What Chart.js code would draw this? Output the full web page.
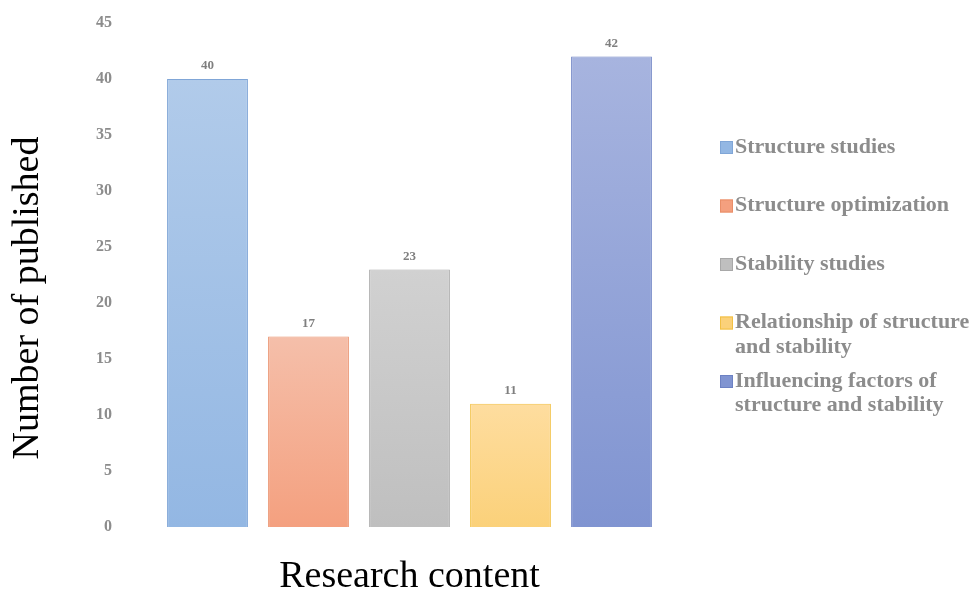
<!DOCTYPE html>
<html>
<head>
<meta charset="utf-8">
<script src="https://cdn.jsdelivr.net/npm/chart.js@4/dist/chart.umd.min.js"></script>
<style>
  html, body { margin: 0; padding: 0; background: #fff; }
  #wrap { width: 974px; height: 590px; }
</style>
</head>
<body>
<div id="wrap"><canvas id="myChart" width="974" height="590"></canvas></div>
<script>
'use strict';

// chart data
let categories = ['Structure studies', 'Structure optimization', 'Stability studies', 'Relationship of structure and stability', 'Influencing factors of structure and stability'];
let published = [40, 17, 23, 11, 42];
let yTicks = [0, 5, 10, 15, 20, 25, 30, 35, 40, 45];
let yTitle = 'Number of published';
let xTitle = 'Research content';

// bar colours, top of bar -> bottom of bar, plus edge
let topColors = ['#b1cbea', '#f5bfaa', '#d1d1d1', '#fedd9f', '#a7b4df'];
let bottomColors = ['#93b7e3', '#f4a07f', '#bfbfbf', '#fbd17a', '#8094d1'];
let edgeColors = ['#80a6d7', '#e98e69', '#a8a8a8', '#f2c043', '#6c81c3'];

let serif = '"Liberation Serif", "Times New Roman", serif';
let grey = '#8c8c8c';

// gradient per bar, from its top down to the zero line
function barGradient(context) {
  let chart = context.chart;
  if (!chart.chartArea) return bottomColors[context.dataIndex];
  let yScale = chart.scales.y;
  let i = context.dataIndex;
  let top = yScale.getPixelForValue(published[i]);
  let base = yScale.getPixelForValue(0);
  let g = chart.ctx.createLinearGradient(0, top, 0, base);
  g.addColorStop(0, topColors[i]);
  g.addColorStop(1, bottomColors[i]);
  return g;
}

// numbers above the bars
let valueLabels = {
  id: 'valueLabels',
  afterDatasetsDraw(chart) {
    let ctx = chart.ctx;
    let meta = chart.getDatasetMeta(0);
    ctx.save();
    ctx.font = 'bold 13px ' + serif;
    ctx.fillStyle = '#7f7f7f';
    ctx.textAlign = 'center';
    ctx.textBaseline = 'middle';
    meta.data.forEach(function (bar, i) {
      ctx.fillText(published[i], bar.x, bar.y - 13);
    });
    ctx.restore();
  }
};

// y title sits a bit lower than the axis middle, so draw it here
let sideTitle = {
  id: 'sideTitle',
  afterDraw(chart) {
    let ctx = chart.ctx;
    ctx.save();
    ctx.translate(28, 298);
    ctx.rotate(-Math.PI / 2);
    ctx.font = '38px ' + serif;
    ctx.fillStyle = '#000';
    ctx.textAlign = 'center';
    ctx.textBaseline = 'middle';
    ctx.fillText(yTitle, 0, 0);
    ctx.restore();
  }
};

// wrap a label to a max width
function wrapText(ctx, text, maxWidth) {
  let words = text.split(' ');
  let lines = [];
  let line = '';
  words.forEach(function (w) {
    let test = line ? line + ' ' + w : w;
    if (ctx.measureText(test).width > maxWidth && line) {
      lines.push(line);
      line = w;
    } else {
      line = test;
    }
  });
  lines.push(line);
  return lines;
}

// legend on the right, drawn by hand so long labels can wrap
let sideLegend = {
  id: 'sideLegend',
  afterDraw(chart) {
    let ctx = chart.ctx;
    let boxX = 720;
    let textX = 735;
    let startY = 147;
    let step = 58.5;
    let lineH = 24.5;
    ctx.save();
    ctx.font = 'bold 22px ' + serif;
    ctx.textBaseline = 'middle';
    ctx.textAlign = 'left';
    categories.forEach(function (name, i) {
      let y = startY + i * step;
      ctx.fillStyle = bottomColors[i];
      ctx.fillRect(boxX, y - 6, 13, 13);
      ctx.strokeStyle = edgeColors[i];
      ctx.lineWidth = 1;
      ctx.strokeRect(boxX + 0.5, y - 5.5, 12, 12);
      ctx.fillStyle = grey;
      let lines = wrapText(ctx, name, 974 - textX - 2);
      lines.forEach(function (ln, k) {
        ctx.fillText(ln, textX, y + k * lineH);
      });
    });
    ctx.restore();
  }
};

let ctx = document.getElementById('myChart').getContext('2d');

let myChart = new Chart(ctx, {
  type: 'bar',
  data: {
    labels: categories,
    datasets: [{
      label: yTitle,
      data: published,
      backgroundColor: barGradient,
      borderColor: edgeColors,
      borderWidth: 1,
      barPercentage: 0.8,
      categoryPercentage: 1.0
    }]
  },
  options: {
    responsive: false,
    animation: false,
    layout: {
      padding: { top: 23, right: 312, bottom: 0, left: 0 }
    },
    plugins: {
      legend: { display: false },
      tooltip: { enabled: false }
    },
    scales: {
      x: {
        grid: { display: false, drawTicks: false },
        border: { display: false },
        ticks: { display: false },
        title: {
          display: true,
          text: xTitle,
          color: '#000',
          font: { family: serif, size: 38, lineHeight: 0.7 },
          padding: { top: 0, bottom: 0 }
        },
        afterFit(scale) {
          scale.height = 63;
        }
      },
      y: {
        min: 0,
        max: 45,
        grid: { display: false, drawTicks: false },
        border: { display: false },
        afterBuildTicks(scale) {
          scale.ticks = yTicks.map(function (v) { return { value: v }; });
        },
        ticks: {
          color: grey,
          padding: 45,
          font: { family: serif, size: 16, weight: 'bold' }
        },
        afterFit(scale) {
          // tick padding would otherwise push the plot top down
          scale.width = 157;
          scale.paddingTop = 0;
          scale.paddingBottom = 0;
        }
      }
    }
  },
  plugins: [valueLabels, sideTitle, sideLegend]
});
</script>
</body>
</html>
